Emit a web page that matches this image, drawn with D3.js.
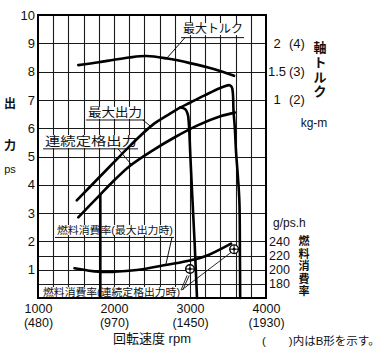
<html>
<head>
<script src="https://cdn.jsdelivr.net/npm/d3@7"></script>
<style>
  body { margin: 0; background: #fff; }
  text { font-family: "Liberation Sans", "Noto Sans CJK JP", sans-serif; fill: #111; }
</style>
</head>
<body>
<script>
var width = 389, height = 352;

// ---- data ----
var rpmTicks = [1000, 2000, 3000, 4000];
var rpmTicksB = ["(480)", "(970)", "(1450)", "(1930)"];
var psTicks = [1, 2, 3, 4, 5, 6, 7, 8, 9, 10];
var torqueTicks = [1, 1.5, 2];
var torqueTicksB = ["(2)", "(3)", "(4)"];
var fuelTicks = [180, 200, 220, 240];

// rpm, ps
var maxOutput = [[1510, 3.45], [1800, 4.25], [2000, 4.8], [2200, 5.35], [2500, 6.1], [2700, 6.45],
  [2870, 6.73], [3000, 6.9], [3200, 7.17], [3400, 7.42], [3520, 7.52], [3550, 7.45], [3565, 7.2],
  [3572, 6.65], [3590, 6.0], [3605, 5.2], [3630, 4.3], [3650, 3.4], [3657, 1.5], [3660, 0]];
var maxOutputCut = [[2870, 6.73], [2935, 6.68], [2970, 6.5], [2985, 6.15], [3005, 5.0],
  [3030, 3.6], [3060, 2.0], [3092, 0]];
var ratedOutput = [[1530, 2.85], [1800, 3.6], [2000, 4.15], [2200, 4.65], [2500, 5.2],
  [2800, 5.68], [3100, 6.1], [3400, 6.42], [3590, 6.55]];
var idleLine = [[1820, 3.65], [1820, 0]];
// rpm, kg-m
var maxTorque = [[1530, 1.615], [1800, 1.665], [2000, 1.71], [2200, 1.75], [2430, 1.775],
  [2700, 1.73], [3000, 1.65], [3300, 1.55], [3580, 1.425]];
// rpm, g/ps.h
var fuelMax = [[1480, 202], [1800, 197], [2000, 197], [2300, 199.5], [2700, 207], [3000, 213],
  [3200, 219], [3540, 237]];
var fuelRated = [[3000, 201], [3580, 229]];

// ---- scales ----
var x = d3.scaleLinear([1000, 4000], [38, 266]);
var y = d3.scaleLinear([0, 10], [298, 15]);
var yT = d3.scaleLinear([0, 2.5], [y(5), y(10)]);
var yF = d3.scaleLinear([180, 240], [y(0.5), y(2)]);

const svg = d3.select("body").append("svg")
  .attr("width", width)
  .attr("height", height);

// grid
var grid = svg.append("g").attr("stroke", "#1a1a1a").attr("stroke-width", 1.1);
grid.selectAll(".v").data(d3.range(1200, 4000, 200)).join("line")
  .attr("x1", d => Math.round(x(d)) + 0.5).attr("x2", d => Math.round(x(d)) + 0.5)
  .attr("y1", y(0)).attr("y2", y(10));
grid.selectAll(".h").data([0.5, 1, 1.5, 2, 3, 4, 5, 6, 7, 8, 9]).join("line")
  .attr("y1", d => Math.round(y(d)) + 0.5).attr("y2", d => Math.round(y(d)) + 0.5)
  .attr("x1", x(1000)).attr("x2", x(4000));

// labels with white background, underline and leader
var labels = [
  {t: "最大トルク", at: [2908, 9.36], w: 60, fs: 12, line: [[2882, 9.2], [3711, 9.2]], lead: [[2934, 9.2], [2697, 8.48]]},
  {t: "最大出力", at: [1658, 6.4], w: 54, fs: 12, line: [[1632, 6.29], [2395, 6.29]], lead: [[2382, 6.29], [2487, 6.05]]},
  {t: "連続定格出力", at: [1092, 5.37], w: 92, fs: 12, line: [[1066, 5.27], [2316, 5.27]], lead: [[2053, 5.27], [2237, 4.69]]},
  {t: "燃料消費率(最大出力時)", at: [1250, 2.26], w: 116, fs: 10.5, line: [[1224, 2.14], [2789, 2.14]], lead: [[2763, 2.14], [2684, 1.2]]},
  {t: "燃料消費率(連続定格出力時)", at: [1066, 0.07], w: 137, fs: 10.5, line: null, lead: null}
];
var lab = svg.append("g");
labels.forEach(function(l) {
  var g = lab.append("g");
  var rect = g.append("rect").attr("fill", "#fff");
  var tx = g.append("text")
    .attr("x", x(l.at[0])).attr("y", y(l.at[1]))
    .attr("font-size", l.fs)
    .attr("textLength", l.w).attr("lengthAdjust", "spacingAndGlyphs")
    .text(l.t);
  var b = tx.node().getBBox();
  rect.attr("x", b.x - 1).attr("y", b.y + 1).attr("width", b.width + 2).attr("height", b.height - 2);
  if (l.line) {
    g.append("line").attr("x1", x(l.line[0][0])).attr("y1", y(l.line[0][1]))
      .attr("x2", x(l.line[1][0])).attr("y2", y(l.line[1][1]))
      .attr("stroke", "#111").attr("stroke-width", 1);
  }
  if (l.lead) {
    g.append("line").attr("x1", x(l.lead[0][0])).attr("y1", y(l.lead[0][1]))
      .attr("x2", x(l.lead[1][0])).attr("y2", y(l.lead[1][1]))
      .attr("stroke", "#111").attr("stroke-width", 1);
  }
});
// leaders from the bottom label to the rated fuel points
[[[2882, 0.28], [2962, 0.8]], [[2905, 0.28], [2990, 0.8]], [[2890, 0.28], [3545, 1.62]]].forEach(function(s) {
  lab.append("line").attr("x1", x(s[0][0])).attr("y1", y(s[0][1]))
    .attr("x2", x(s[1][0])).attr("y2", y(s[1][1]))
    .attr("stroke", "#111").attr("stroke-width", 0.9);
});

// curves
var curve = d3.curveCatmullRom.alpha(0.5);
var linePs = d3.line().x(d => x(d[0])).y(d => y(d[1])).curve(curve);
var lineT = d3.line().x(d => x(d[0])).y(d => yT(d[1])).curve(curve);
var lineF = d3.line().x(d => x(d[0])).y(d => yF(d[1])).curve(curve);

var curves = svg.append("g").attr("fill", "none").attr("stroke", "#000")
  .attr("stroke-width", 2.6).attr("stroke-linejoin", "round").attr("stroke-linecap", "round");
curves.append("path").attr("d", linePs(maxOutput));
curves.append("path").attr("d", linePs(maxOutputCut));
curves.append("path").attr("d", linePs(ratedOutput));
curves.append("path").attr("d", d3.line().x(d => x(d[0])).y(d => y(d[1]))(idleLine)).attr("stroke-linecap", "butt");
curves.append("path").attr("d", lineT(maxTorque));
curves.append("path").attr("d", lineF(fuelMax));

// rated fuel points
var mk = svg.append("g").selectAll("g").data(fuelRated).join("g")
  .attr("transform", d => `translate(${x(d[0])},${yF(d[1])})`);
mk.append("circle").attr("r", 4.3).attr("fill", "#fff").attr("stroke", "#000").attr("stroke-width", 1.4);
mk.append("path").attr("d", "M-4.3,0H4.3M0,-4.3V4.3").attr("stroke", "#000").attr("stroke-width", 1);
mk.append("circle").attr("r", 1.4).attr("fill", "#000");

// frame
svg.append("rect").attr("x", x(1000)).attr("y", y(10))
  .attr("width", x(4000) - x(1000)).attr("height", y(0) - y(10))
  .attr("fill", "none").attr("stroke", "#000").attr("stroke-width", 2);

// left axis
var yAxis = d3.axisLeft(y).tickValues(psTicks).tickSize(0).tickPadding(0);
var ya = svg.append("g").attr("transform", "translate(35,0)").call(yAxis);
ya.select(".domain").remove();
ya.selectAll("text").attr("font-size", 13).attr("font-family", null).attr("fill", "#111");

// bottom axis, two rows
var xAxis = d3.axisBottom(x).tickValues(rpmTicks).tickSize(0).tickPadding(0).tickFormat(d3.format("d"));
var xa = svg.append("g").attr("transform", "translate(0,304)").call(xAxis);
xa.select(".domain").remove();
xa.selectAll("text").attr("font-size", 12.5).attr("font-family", null).attr("fill", "#111");
var xAxisB = d3.axisBottom(x).tickValues(rpmTicks).tickSize(0).tickPadding(0)
  .tickFormat((d, i) => rpmTicksB[i]);
var xb = svg.append("g").attr("transform", "translate(0,318)").call(xAxisB);
xb.select(".domain").remove();
xb.selectAll("text").attr("font-size", 12.5).attr("font-family", null).attr("fill", "#111");

// right torque axis
var ta = svg.append("g");
ta.selectAll(".n").data(torqueTicks).join("text")
  .attr("x", 277).attr("y", d => yT(d) + 4.5)
  .attr("text-anchor", "middle").attr("font-size", 13)
  .text(d => d);
ta.selectAll(".b").data(torqueTicks).join("text")
  .attr("x", 289).attr("y", d => yT(d) + 4.5)
  .attr("font-size", 13)
  .text((d, i) => torqueTicksB[i]);

// right fuel axis
var fa = svg.append("g");
fa.selectAll("text").data(fuelTicks).join("text")
  .attr("x", 269).attr("y", d => yF(d) + 4.5)
  .attr("font-size", 12.5)
  .text(d => d);

// titles
function vtext(chars, cx, ys, fs, bold) {
  chars.split("").forEach(function(c, i) {
    svg.append("text").attr("x", cx).attr("y", ys[i]).attr("text-anchor", "middle")
      .attr("font-size", fs).attr("font-weight", bold ? 700 : 400).text(c);
  });
}
vtext("出力", 10, [108, 150], 12, true);
svg.append("text").attr("x", 10).attr("y", 173).attr("text-anchor", "middle").attr("font-size", 11).text("ps");
vtext("軸トルク", 320, [52, 67, 82, 96], 13, true);
svg.append("text").attr("x", 314).attr("y", 127).attr("text-anchor", "middle").attr("font-size", 12).text("kg-m");
svg.append("text").attr("x", 273).attr("y", 227).attr("font-size", 12).text("g/ps.h");
vtext("燃料消費率", 304, [245, 257.5, 270, 282.5, 295], 11, true);
svg.append("text").attr("x", 152).attr("y", 343).attr("text-anchor", "middle").attr("font-size", 13).text("回転速度 rpm");
svg.append("text").attr("x", 262).attr("y", 345).attr("font-size", 11.5).text("(　　)内はB形を示す。");
</script>
</body>
</html>
